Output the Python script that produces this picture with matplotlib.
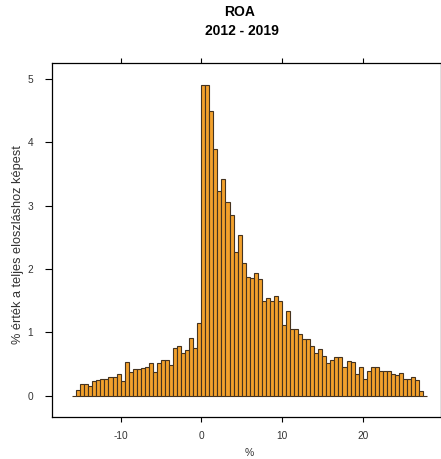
import numpy as np
import matplotlib
matplotlib.use('Agg')
import matplotlib.pyplot as plt

plt.rcParams['font.family'] = ['Liberation Sans', 'DejaVu Sans']
plt.rcParams['axes.unicode_minus'] = False

# ── adatok: hisztogram (0.5 széles osztályok, -16 .. 28) ──────────
BIN_WIDTH = 0.5
bin_start = np.arange(-16, 28, BIN_WIDTH)
pct = [
    0.00, 0.09, 0.19, 0.19, 0.16, 0.23, 0.25, 0.26, 0.27, 0.30, 0.30, 0.34,
    0.24, 0.54, 0.37, 0.42, 0.42, 0.43, 0.46, 0.51, 0.38, 0.51, 0.56, 0.56,
    0.49, 0.75, 0.78, 0.67, 0.72, 0.91, 0.76, 1.14,
    4.91, 4.91, 4.50, 3.90, 3.23, 3.42, 3.05, 2.85, 2.27, 2.54, 2.10, 1.88,
    1.86, 1.94, 1.84, 1.49, 1.54, 1.49, 1.57, 1.49,
    1.11, 1.34, 1.05, 1.06, 0.98, 0.89, 0.89, 0.78, 0.67, 0.74, 0.62, 0.52,
    0.57, 0.61, 0.61, 0.45, 0.55, 0.54, 0.35, 0.45,
    0.26, 0.39, 0.45, 0.45, 0.39, 0.39, 0.39, 0.35, 0.32, 0.36, 0.26, 0.26,
    0.29, 0.25, 0.08, 0.00,
]
x_ticks = [-10, 0, 10, 20]
y_ticks = [0, 1, 2, 3, 4, 5]

TITLE = 'ROA'
SUBTITLE = '2012 - 2019'
XLABEL = '%'
YLABEL = '% érték a teljes eloszláshoz képest'

BAR_COLOR = '#F2A12C'
EDGE_COLOR = '#45331F'
TEXT_COLOR = '#333333'

W, H = 441, 459
fig = plt.figure(figsize=(W / 100, H / 100), dpi=100)
left, right, top, bottom = 51.7, 440.5, 63.0, 417.3
ax = fig.add_axes([left / W, 1 - bottom / H, (right - left) / W, (bottom - top) / H])

ax.bar(bin_start, pct, width=BIN_WIDTH, align='edge',
       color=BAR_COLOR, edgecolor=EDGE_COLOR, linewidth=0.8)

ax.set_xlim(-18.54, 29.65)
ax.set_ylim(-0.34, 5.25)

ax.set_xticks(x_ticks)
ax.set_yticks(y_ticks)
ax.tick_params(axis='x', which='both', top=True, bottom=True, direction='out',
               length=3.6, width=0.8, pad=6.5, labelsize=7.3, labelcolor=TEXT_COLOR)
ax.tick_params(axis='y', which='both', left=True, right=False, direction='out',
               length=5, width=0.8, pad=8.5, labelsize=7.3, labelcolor=TEXT_COLOR)
for sp in ax.spines.values():
    sp.set_linewidth(0.9)
    sp.set_color('black')

# feliratok
fig.text(240 / W, 1 - 12.5 / H, TITLE, ha='center', va='center',
         fontsize=10, fontweight='bold')
fig.text(241.5 / W, 1 - 31 / H, SUBTITLE, ha='center', va='center',
         fontsize=10, fontweight='bold')
fig.text(249.5 / W, 1 - 453.5 / H, XLABEL, ha='center', va='center',
         fontsize=7.5, color=TEXT_COLOR)
fig.text(18 / W, 1 - 245 / H, YLABEL, ha='center', va='center', rotation=90,
         fontsize=9.2, color=TEXT_COLOR)

fig.savefig('out.png', dpi=100)
